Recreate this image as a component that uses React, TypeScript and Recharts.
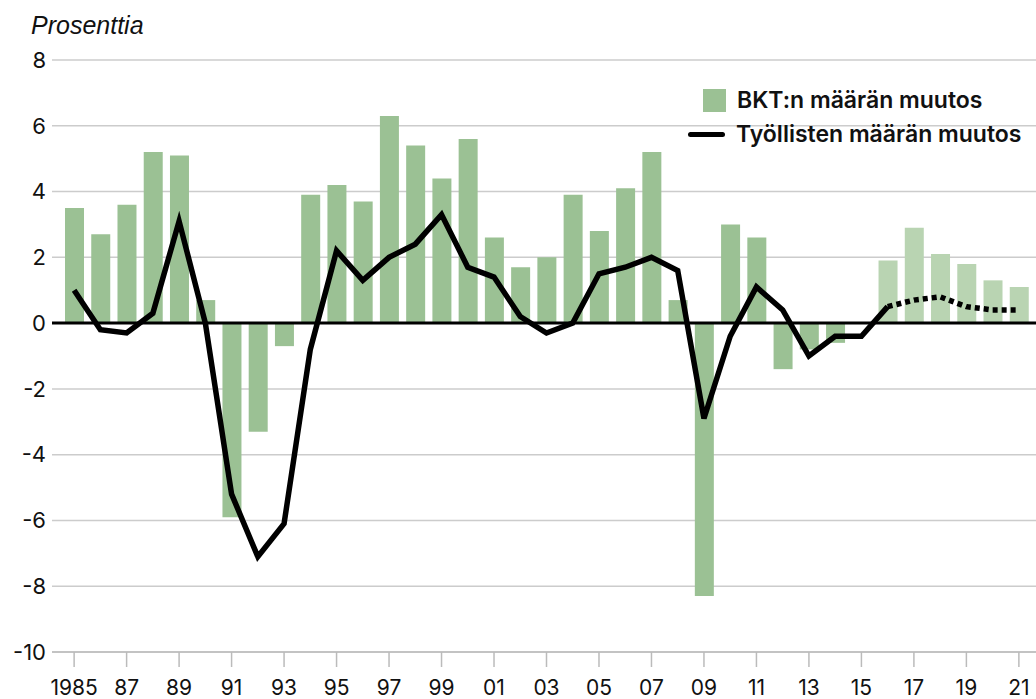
import React from 'react';
import {
  ComposedChart,
  Bar,
  Line,
  XAxis,
  YAxis,
  CartesianGrid,
  ReferenceLine,
  Cell,
  Legend,
} from 'recharts';

const years = [
  1985, 1986, 1987, 1988, 1989, 1990, 1991, 1992, 1993, 1994, 1995, 1996, 1997,
  1998, 1999, 2000, 2001, 2002, 2003, 2004, 2005, 2006, 2007, 2008, 2009, 2010,
  2011, 2012, 2013, 2014, 2015, 2016, 2017, 2018, 2019, 2020, 2021,
];

const gdpGrowth = [
  3.5, 2.7, 3.6, 5.2, 5.1, 0.7, -5.9, -3.3, -0.7, 3.9, 4.2, 3.7, 6.3, 5.4, 4.4,
  5.6, 2.6, 1.7, 2.0, 3.9, 2.8, 4.1, 5.2, 0.7, -8.3, 3.0, 2.6, -1.4, -0.8, -0.6,
  0.0, 1.9, 2.9, 2.1, 1.8, 1.3, 1.1,
];

const employmentGrowth = [
  1.0, -0.2, -0.3, 0.3, 3.1, 0.0, -5.2, -7.1, -6.1, -0.8, 2.2, 1.3, 2.0, 2.4,
  3.3, 1.7, 1.4, 0.2, -0.3, 0.0, 1.5, 1.7, 2.0, 1.6, -2.9, -0.4, 1.1, 0.4, -1.0,
  -0.4, -0.4, 0.5, 0.7, 0.8, 0.5, 0.4, 0.4,
];

const forecastStartYear = 2016;
const yTicks = [-10, -8, -6, -4, -2, 0, 2, 4, 6, 8];

const seriesNames = ['BKT:n määrän muutos', 'Työllisten määrän muutos'];
const yUnitLabel = 'Prosenttia';

const BAR_COLOR = '#9bc194';
const BAR_FORECAST_COLOR = '#b9d4b2';

const data = years.map((year, i) => ({
  year,
  gdp: gdpGrowth[i],
  emp: year <= forecastStartYear ? employmentGrowth[i] : null,
  empF: year >= forecastStartYear ? employmentGrowth[i] : null,
}));

const FONT = 'Inter, "Noto Sans", sans-serif';

const formatYear = (y: number) =>
  y === 1985 ? '1985' : String(y % 100).padStart(2, '0');

const LegendContent = () => (
  <div style={{ fontFamily: FONT, fontWeight: 600, fontSize: 23, color: '#111' }}>
    <div style={{ display: 'flex', alignItems: 'center', height: 23, marginBottom: 11 }}>
      <div style={{ width: 15 }} />
      <div style={{ width: 23, height: 23, background: BAR_COLOR }} />
      <div style={{ marginLeft: 11, lineHeight: '23px', whiteSpace: 'nowrap' }}>{seriesNames[0]}</div>
    </div>
    <div style={{ display: 'flex', alignItems: 'center', height: 23 }}>
      <div style={{ width: 37, height: 5, background: '#000', borderRadius: 3 }} />
      <div style={{ marginLeft: 11, lineHeight: '23px', whiteSpace: 'nowrap' }}>{seriesNames[1]}</div>
    </div>
  </div>
);

export default function App() {
  return (
    <div style={{ position: 'absolute', left: 0, top: 0, width: 1036, height: 699 }}>
      <div
        style={{
          position: 'absolute',
          left: 31,
          top: 13,
          fontFamily: '"Liberation Sans", Arial, sans-serif',
          fontStyle: 'italic',
          fontSize: 25,
          lineHeight: '25px',
          color: '#111',
          whiteSpace: 'nowrap',
        }}
      >
        {yUnitLabel}
      </div>
      <ComposedChart
        width={1036}
        height={699}
        data={data}
        margin={{ top: 60, right: 0, bottom: 0, left: 0 }}
        barSize={19}
      >
        <CartesianGrid vertical={false} stroke="#cccccc" strokeWidth={1.5} />
        <XAxis
          dataKey="year"
          height={47}
          interval={1}
          tickFormatter={formatYear}
          tickSize={15}
          tickMargin={13}
          padding={{ left: 9, right: 4 }}
          axisLine={{ stroke: '#bbbbbb', strokeWidth: 1.5 }}
          tickLine={{ stroke: '#bbbbbb', strokeWidth: 1.5 }}
          tick={{ fill: '#111', fontSize: 21, fontFamily: FONT }}
        />
        <YAxis
          width={52}
          domain={[-10, 8]}
          ticks={yTicks}
          interval={0}
          axisLine={false}
          tickLine={false}
          tickSize={4}
          tickMargin={2}
          tick={{ fill: '#111', fontSize: 22, fontFamily: FONT }}
        />
        <Bar dataKey="gdp" isAnimationActive={false}>
          {data.map((d) => (
            <Cell
              key={d.year}
              fill={d.year >= forecastStartYear ? BAR_FORECAST_COLOR : BAR_COLOR}
            />
          ))}
        </Bar>
        <ReferenceLine y={0} stroke="#000" strokeWidth={3} />
        <Line
          dataKey="emp"
          stroke="#000"
          strokeWidth={5.5}
          dot={false}
          activeDot={false}
          strokeLinejoin="miter"
          connectNulls={false}
          isAnimationActive={false}
        />
        <Line
          dataKey="empF"
          stroke="#000"
          strokeWidth={5.5}
          strokeDasharray="5 4"
          dot={false}
          activeDot={false}
          connectNulls={false}
          isAnimationActive={false}
        />
        <Legend
          layout="horizontal"
          verticalAlign="middle"
          align="center"
          content={<LegendContent />}
          wrapperStyle={{ position: 'absolute', left: 688, top: 89, width: 348, height: 60 }}
        />
      </ComposedChart>
    </div>
  );
}
